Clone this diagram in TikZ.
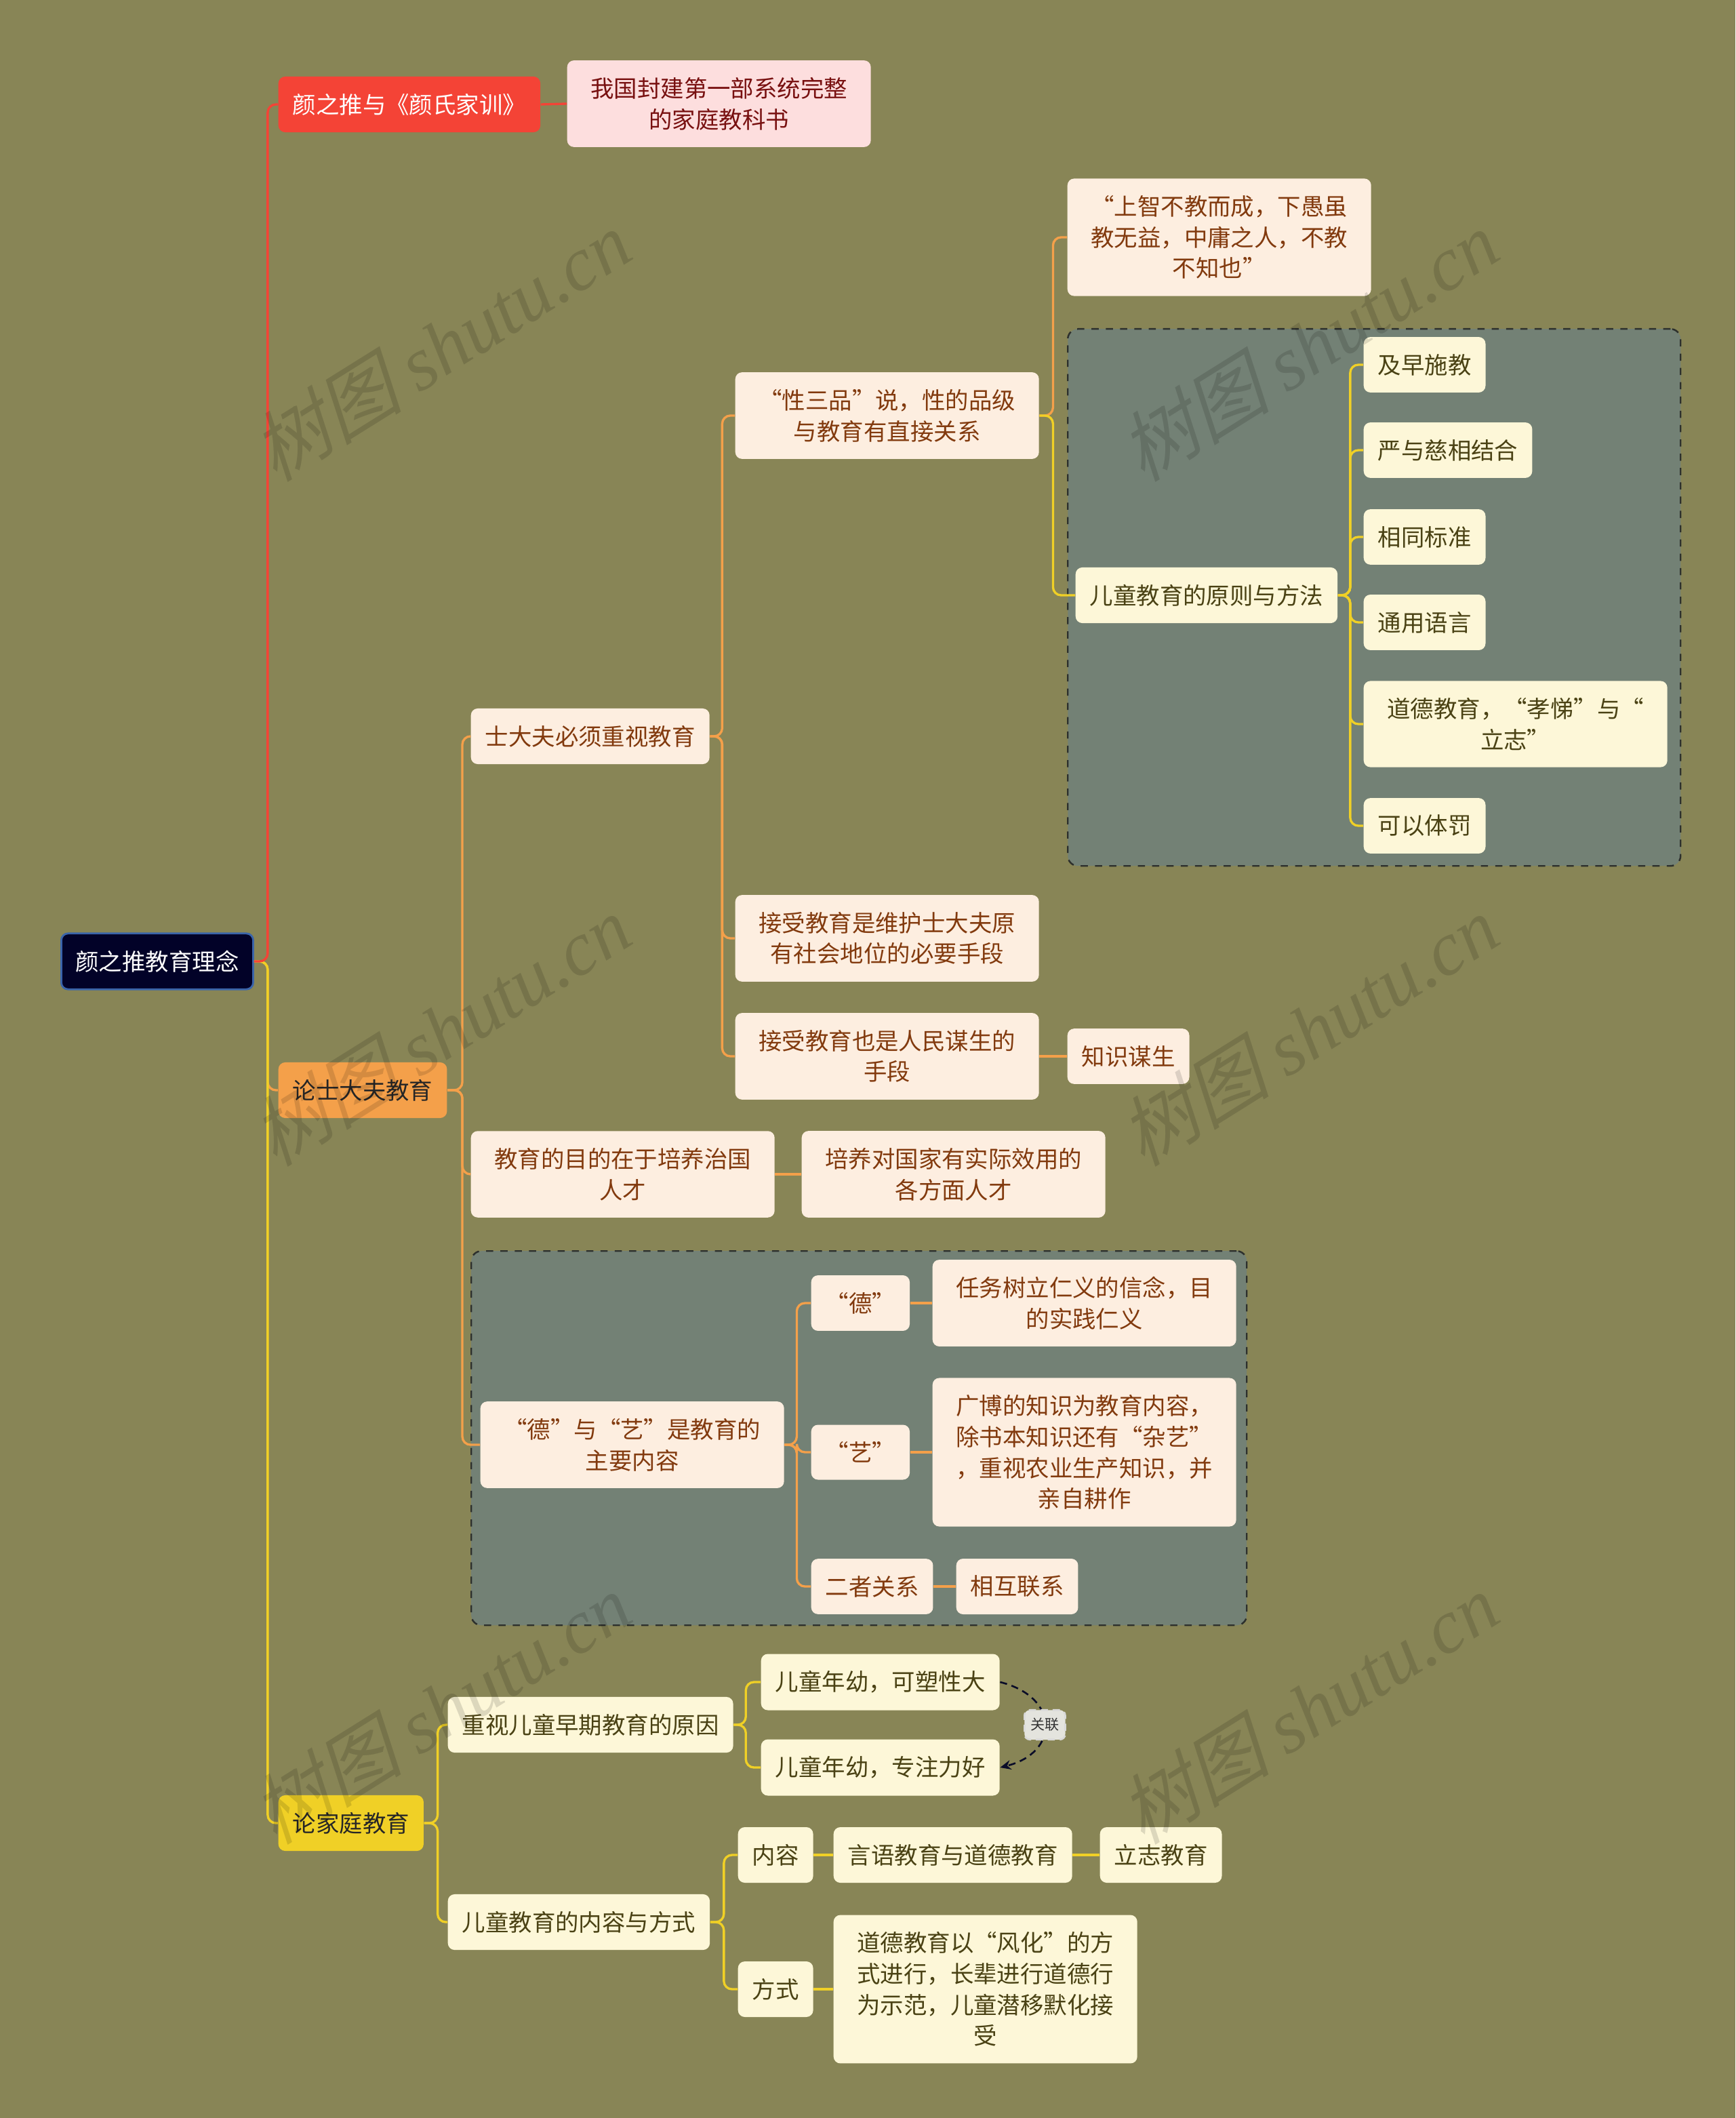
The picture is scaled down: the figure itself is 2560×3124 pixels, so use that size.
\documentclass[tikz,border=0pt]{standalone}
\usepackage{fontspec}
\setmainfont{Noto Sans CJK SC}
\newfontfamily\wmcjk[FakeSlant=0.25]{Noto Sans CJK SC}
\newfontfamily\wmlatin{Liberation Serif}
\usetikzlibrary{positioning, arrows.meta}
\definecolor{bgcol}{RGB}{136,133,86}
\definecolor{groupcol}{RGB}{115,129,117}
\definecolor{grouplinecol}{RGB}{45,48,45}
\definecolor{rootcol}{RGB}{2,2,40}
\definecolor{rootlinecol}{RGB}{58,100,170}
\definecolor{redcol}{RGB}{244,67,54}
\definecolor{orangecol}{RGB}{244,160,74}
\definecolor{yellowcol}{RGB}{240,208,38}
\definecolor{pinkcol}{RGB}{253,222,222}
\definecolor{pinktext}{RGB}{120,16,16}
\definecolor{peachcol}{RGB}{253,238,224}
\definecolor{peachtext}{RGB}{130,58,14}
\definecolor{creamcol}{RGB}{253,247,216}
\definecolor{creamtext}{RGB}{74,66,20}
\definecolor{tagcol}{RGB}{228,228,222}
\definecolor{relcol}{RGB}{10,12,40}
\newcommand\mapfont{\fontsize{9.8}{13}\selectfont}
\tikzset{
  topic/.style={rectangle, rounded corners=1mm, inner xsep=2.1mm,
                inner ysep=2.5mm, align=center, anchor=west, font=\mapfont},
  wide/.style={text width=40.6mm},
  root node/.style={topic, fill=rootcol, draw=rootlinecol, line width=0.8pt,
                    text=white},
  red topic/.style={topic, fill=redcol, text=white},
  orange topic/.style={topic, fill=orangecol, text=black!85},
  yellow topic/.style={topic, fill=yellowcol, text=black!85},
  pink node/.style={topic, fill=pinkcol, text=pinktext},
  peach node/.style={topic, fill=peachcol, text=peachtext},
  cream node/.style={topic, fill=creamcol, text=creamtext},
  group box/.style={draw=grouplinecol, dashed, fill=groupcol,
                    rounded corners=1.5mm, line width=0.7pt},
  link/.style={line width=0.95pt, rounded corners=1.2mm},
  red link/.style={link, redcol},
  orange link/.style={link, orangecol},
  yellow link/.style={link, yellowcol},
  rel arr/.style={-{Stealth[length=1.6mm, width=1.4mm]}, densely dashed,
                  line width=0.75pt, relcol},
  rel tag/.style={rectangle, rounded corners=0.8mm, fill=tagcol,
                  draw=white!85!black, inner xsep=0.9mm, inner ysep=1.2mm,
                  font=\fontsize{6}{7}\selectfont, text=black!80},
  watermark/.style={rotate=32, opacity=0.13, text=black},
}
\begin{document}
\begin{tikzpicture}[x=0.1mm, y=-0.1mm]
    \fill[bgcol] (0,0) rectangle (2560,3124);
    \useasboundingbox (0,0) rectangle (2560,3124);

    % group boxes
    \node[group box, minimum width=90.4mm, minimum height=79.2mm, anchor=north west] (grpA) at (1574,484) {};
    \node[group box, minimum width=114.4mm, minimum height=55.2mm, anchor=north west] (grpB) at (694,1844) {};

    % root and main branches
    \node[root node] (root) at (89,1418) {颜之推教育理念};
    \node[red topic] (b1) at (410,154) {颜之推与《颜氏家训》};
    \node[orange topic] (b2) at (410,1608) {论士大夫教育};
    \node[yellow topic] (b3) at (410,2689) {论家庭教育};

    % first branch
    \node[pink node, wide] (b1c) at (836,153) {我国封建第一部系统完整\\的家庭教科书};

    % second branch
    \node[peach node] (s1) at (694,1086) {士大夫必须重视教育};
    \node[peach node, wide] (s11) at (1084,613) {“性三品”说，性的品级\\与教育有直接关系};
    \node[peach node, wide] (s111) at (1574,350) {“上智不教而成，下愚虽\\教无益，中庸之人，不教\\不知也”};
    \node[cream node] (s112) at (1586,878) {儿童教育的原则与方法};
    \node[cream node] (p1) at (2011,538) {及早施教};
    \node[cream node] (p2) at (2011,664) {严与慈相结合};
    \node[cream node] (p3) at (2011,792) {相同标准};
    \node[cream node] (p4) at (2011,918) {通用语言};
    \node[cream node, wide] (p5) at (2011,1068) {道德教育，“孝悌”与“\\立志”};
    \node[cream node] (p6) at (2011,1218) {可以体罚};
    \node[peach node, wide] (s12) at (1084,1384) {接受教育是维护士大夫原\\有社会地位的必要手段};
    \node[peach node, wide] (s13) at (1084,1558) {接受教育也是人民谋生的\\手段};
    \node[peach node] (s131) at (1574,1558) {知识谋生};
    \node[peach node, wide] (s2) at (694,1732) {教育的目的在于培养治国\\人才};
    \node[peach node, wide] (s21) at (1182,1732) {培养对国家有实际效用的\\各方面人才};
    \node[peach node, wide] (s3) at (708,2131) {“德”与“艺”是教育的\\主要内容};
    \node[peach node] (d1) at (1196,1922) {“德”};
    \node[peach node, wide] (d1c) at (1375,1922) {任务树立仁义的信念，目\\的实践仁义};
    \node[peach node] (d2) at (1196,2142) {“艺”};
    \node[peach node, wide] (d2c) at (1375,2142) {广博的知识为教育内容，\\除书本知识还有“杂艺”\\，重视农业生产知识，并\\亲自耕作};
    \node[peach node] (d3) at (1196,2340) {二者关系};
    \node[peach node] (d3c) at (1410,2340) {相互联系};

    % third branch
    \node[cream node] (f1) at (660,2544) {重视儿童早期教育的原因};
    \node[cream node] (f11) at (1122,2481) {儿童年幼，可塑性大};
    \node[cream node] (f12) at (1122,2607) {儿童年幼，专注力好};
    \node[cream node] (f2) at (660,2835) {儿童教育的内容与方式};
    \node[cream node] (f21) at (1088,2736) {内容};
    \node[cream node] (f211) at (1229,2736) {言语教育与道德教育};
    \node[cream node] (f2111) at (1622,2736) {立志教育};
    \node[cream node] (f22) at (1088,2934) {方式};
    \node[cream node, wide] (f221) at (1229,2934) {道德教育以“风化”的方\\式进行，长辈进行道德行\\为示范，儿童潜移默化接\\受};

    % connectors
    \draw[orange link] (root.east) -- ++(20,0) |- (b2.west);
    \draw[yellow link] (root.east) -- ++(20,0) |- (b3.west);
    \draw[red link] (root.east) -- ++(20,0) |- (b1.west);
    \draw[red link] (b1.east) -- (b1c.west);

    \draw[orange link] (b2.east) -- ++(22,0) |- (s1.west);
    \draw[orange link] (b2.east) -- ++(22,0) |- (s2.west);
    \draw[orange link] (b2.east) -- ++(22,0) |- (s3.west);
    \draw[orange link] (s1.east) -- ++(18,0) |- (s11.west);
    \draw[orange link] (s1.east) -- ++(18,0) |- (s12.west);
    \draw[orange link] (s1.east) -- ++(18,0) |- (s13.west);
    \draw[orange link] (s11.east) -- ++(20,0) |- (s111.west);
    \draw[yellow link] (s11.east) -- ++(20,0) |- (s112.west);
    \foreach \k in {p1,p2,p3,p4,p5,p6}
      \draw[yellow link] (s112.east) -- ++(18,0) |- (\k.west);
    \draw[orange link] (s13.east) -- (s131.west);
    \draw[orange link] (s2.east) -- (s21.west);
    \foreach \k in {d1,d2,d3}
      \draw[orange link] (s3.east) -- ++(18,0) |- (\k.west);
    \draw[orange link] (d1.east) -- (d1c.west);
    \draw[orange link] (d2.east) -- (d2c.west);
    \draw[orange link] (d3.east) -- (d3c.west);

    \draw[yellow link] (b3.east) -- ++(20,0) |- (f1.west);
    \draw[yellow link] (b3.east) -- ++(20,0) |- (f2.west);
    \draw[yellow link] (f1.east) -- ++(18,0) |- (f11.west);
    \draw[yellow link] (f1.east) -- ++(18,0) |- (f12.west);
    \draw[yellow link] (f2.east) -- ++(20,0) |- (f21.west);
    \draw[yellow link] (f2.east) -- ++(20,0) |- (f22.west);
    \draw[yellow link] (f21.east) -- (f211.west);
    \draw[yellow link] (f211.east) -- (f2111.west);
    \draw[yellow link] (f22.east) -- (f221.west);

    % relation
    \draw[rel arr] (f11.east) .. controls +(88,22) and +(88,-22) .. node[rel tag] (tag) {关联} (f12.east);

    % watermark
    \foreach \wx/\wy [count=\i] in {650/510, 1930/510, 650/1520, 1930/1520, 650/2520, 1930/2520}
      \node[watermark] (wm\i) at (\wx,\wy) {\fontsize{32}{32}\selectfont\wmcjk 树图 \wmlatin\itshape shutu.cn};
\end{tikzpicture}
\end{document}
